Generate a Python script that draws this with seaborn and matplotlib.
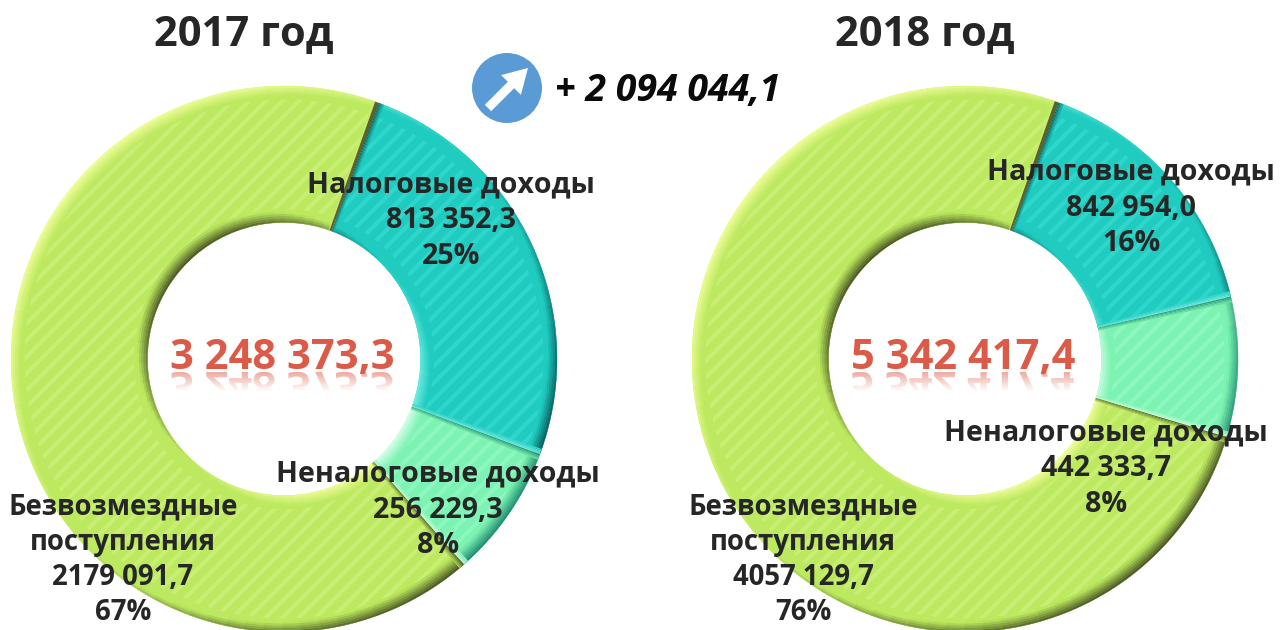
# -*- coding: utf-8 -*-
import numpy as np
import matplotlib.pyplot as plt
from matplotlib.font_manager import FontProperties
from matplotlib.patches import Circle, FancyArrow, PathPatch, Wedge
from matplotlib.colors import to_rgb
from matplotlib.textpath import TextPath
from matplotlib.transforms import Affine2D
import seaborn as sns

W, H = 1284, 630

categories = ["Налоговые доходы", "Неналоговые доходы", "Безвозмездные\nпоступления"]
values_2017 = [813352.3, 256229.3, 2179091.7]
values_2018 = [842954.0, 442333.7, 4057129.7]
shown_2017 = ["813 352,3", "256 229,3", "2179 091,7"]
shown_2018 = ["842 954,0", "442 333,7", "4057 129,7"]
pct_2017 = ["25%", "8%", "67%"]
pct_2018 = ["16%", "8%", "76%"]
total_2017 = "3 248 373,3"
total_2018 = "5 342 417,4"
change = "+ 2 094 044,1"

colors = ["#20CCC0", "#7CF3B2", "#BCE95F"]
stripes = ["#2FD6CB", "#8CF7BE", "#C8EF74"]
lights = ["#7FF0EA", "#D8FFEA", "#F2FF9C"]
darks = ["#064F54", "#1F8A70", "#465222"]

sns.set_theme(style="white")
plt.rcParams["font.family"] = ["Open Sans", "DejaVu Sans"]
plt.rcParams["hatch.linewidth"] = 3

fig = plt.figure(figsize=(W / 100, H / 100), dpi=100, facecolor="white")


def blend(a, b, t):
    a, b = np.array(to_rgb(a)), np.array(to_rgb(b))
    return tuple(a + (b - a) * t)


def rim_color(i, angle, inner, t):
    # light comes from the upper left
    s = np.cos(np.radians(angle - 135))
    if inner:
        s = -s
    edge = lights[i] if s > 0 else darks[i]
    return blend(edge, colors[i], min(1, t + 1 - abs(s) * 0.95))


def draw_donut(cx, cy, values, start):
    r = 273
    ax = fig.add_axes([(cx - 290) / W, 1 - (cy + 290) / H, 580 / W, 580 / H])
    wedges, _ = ax.pie(values, colors=colors, startangle=90 - start, counterclock=False,
                       radius=1, wedgeprops=dict(width=0.5, linewidth=0))
    n = 6
    band = 0.008
    for i, w in enumerate(wedges):
        # flat face with the stripes
        ax.add_patch(Wedge((0, 0), 1 - n * band, w.theta1 + 0.8, w.theta2 - 0.8,
                           width=0.5 - 2 * n * band, fc=colors[i], ec=stripes[i],
                           hatch="//", lw=0))
        # bevel: rim rings cut in short arcs, shaded by direction
        edges = np.arange(w.theta1, w.theta2 + 0.01, 4)
        edges = np.append(edges[:-1], w.theta2) if len(edges) > 1 else np.array([w.theta1, w.theta2])
        for k in range(n):
            t = k / n
            for a, b in zip(edges[:-1], edges[1:]):
                mid = (a + b) / 2
                c = rim_color(i, mid, False, t)
                ax.add_patch(Wedge((0, 0), 1 - k * band, a, b, width=band, fc=c, ec=c, lw=0.3))
                c = rim_color(i, mid, True, t)
                ax.add_patch(Wedge((0, 0), 0.5 + (k + 1) * band, a, b, width=band, fc=c, ec=c, lw=0.3))
        # slice ends
        for k in range(4):
            c = blend(darks[i], colors[i], 0.2 + k * 0.2)
            ax.add_patch(Wedge((0, 0), 1, w.theta2 - 0.3 * (k + 1), w.theta2 - 0.3 * k, width=0.5, fc=c, lw=0))
            c = blend(lights[i], colors[i], 0.1 + k * 0.22)
            ax.add_patch(Wedge((0, 0), 1, w.theta1 + 0.3 * k, w.theta1 + 0.3 * (k + 1), width=0.5, fc=c, lw=0))
    # dark seam where the green slice meets the teal one
    ax.add_patch(Wedge((0, 0), 1.0, wedges[2].theta1 - 0.1, wedges[2].theta1 + 0.8, width=0.5,
                       fc="#59632F", lw=0))
    ax.set_xlim(-290 / r, 290 / r)
    ax.set_ylim(-290 / r, 290 / r)
    ax.axis("off")


draw_donut(284, 359, values_2017, 20.3)
draw_donut(965, 359, values_2018, 20.0)

top = fig.add_axes([0, 0, 1, 1], facecolor="none")
top.set_xlim(0, W)
top.set_ylim(H, 0)
top.axis("off")

ink = "#262626"
for x, title in [(244, "2017 год"), (925, "2018 год")]:
    top.text(x, 35, title, fontsize=30, fontweight="bold", color=ink, ha="center", va="center")

top.add_patch(Circle((507, 88), 35, fc="#5B9BD5", lw=0))
top.add_patch(FancyArrow(488, 108, 40, -40, width=9, head_width=28, head_length=24,
                         length_includes_head=True, fc="white", lw=0))
top.text(555, 91, change, fontsize=27, fontweight="bold", style="italic", color="#0A0A0A",
         ha="left", va="center")


def labels(xs, ys, shown, pct):
    for i in range(3):
        txt = categories[i] + "\n" + shown[i] + "\n" + pct[i]
        size = 19.8 if i == 2 else 20.6
        top.text(xs[i], ys[i], txt, fontsize=size, fontweight="bold", color=ink, ha="center",
                 va="center", linespacing=1.28 if i == 2 else 1.3)


labels([451, 438, 123], [221, 510, 560], shown_2017, pct_2017)
labels([1131, 1106, 803], [208, 469, 560], shown_2018, pct_2018)

red = "#DB5A48"
fp = FontProperties(family="Open Sans", weight="bold")
for x, total in [(282, total_2017), (963, total_2018)]:
    top.text(x, 369, total, fontsize=30, fontweight="bold", color=red, ha="center", va="baseline")
    # faded mirror image under the number
    tp = TextPath((0, 0), total, size=30 * 100 / 72, prop=fp)
    box = tp.get_extents()
    x0 = x - box.width / 2 - box.x0
    mirror = PathPatch(tp, fc="none", lw=0, transform=Affine2D().translate(x0, 372) + top.transData)
    top.add_patch(mirror)
    rgba = np.zeros((20, 1, 4))
    rgba[..., :3] = to_rgb(red)
    rgba[:, 0, 3] = np.linspace(0.5, 0, 20)
    im = top.imshow(rgba, extent=(x - 125, x + 125, 392, 372), aspect="auto", zorder=3)
    im.set_clip_path(mirror)
top.set_xlim(0, W)
top.set_ylim(H, 0)

fig.savefig("out.png", dpi=100)
